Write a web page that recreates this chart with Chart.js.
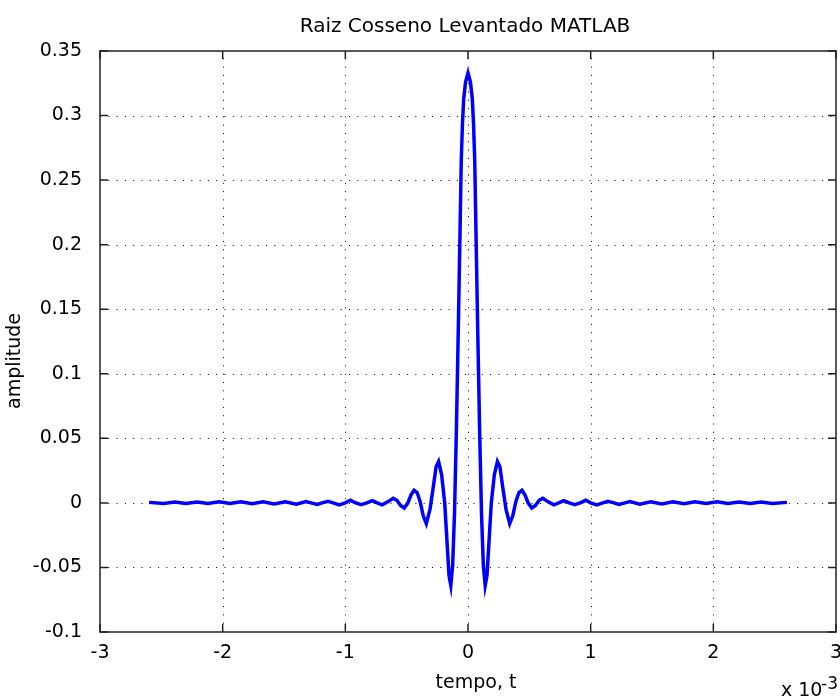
<!DOCTYPE html>
<html>
<head>
<meta charset="utf-8">
<script src="https://cdn.jsdelivr.net/npm/chart.js@4.4.1/dist/chart.umd.min.js"></script>
<style>
  html, body { margin: 0; padding: 0; background: #fff; }
  #wrap { width: 840px; height: 699px; }
</style>
</head>
<body>
<div id="wrap"><canvas id="myChart" width="840" height="699"></canvas></div>
<script>
// tempo in units of 1e-3 s
const tempo = [
  -2.6, -2.48, -2.39, -2.3, -2.21, -2.12, -2.03, -1.94, -1.85, -1.76,
  -1.67, -1.58, -1.49, -1.4, -1.32, -1.28, -1.23, -1.19, -1.14, -1.1,
  -1.05, -1.0, -0.96, -0.915, -0.87, -0.825, -0.78, -0.74, -0.7, -0.65,
  -0.61, -0.58, -0.55, -0.52, -0.49, -0.465, -0.44, -0.415, -0.39, -0.365,
  -0.34, -0.31, -0.285, -0.26, -0.24, -0.215, -0.19, -0.17, -0.155, -0.14,
  -0.125, -0.11, -0.095, -0.08, -0.065, -0.055, -0.045, -0.035, -0.02,
  0,
  0.02, 0.035, 0.045, 0.055, 0.065, 0.08, 0.095, 0.11, 0.125, 0.14,
  0.155, 0.17, 0.19, 0.215, 0.24, 0.26, 0.285, 0.31, 0.34, 0.365,
  0.39, 0.415, 0.44, 0.465, 0.49, 0.52, 0.55, 0.58, 0.61, 0.65,
  0.7, 0.74, 0.78, 0.825, 0.87, 0.915, 0.96, 1.0, 1.05, 1.1,
  1.14, 1.19, 1.23, 1.28, 1.32, 1.4, 1.49, 1.58, 1.67, 1.76,
  1.85, 1.94, 2.03, 2.12, 2.21, 2.3, 2.39, 2.48, 2.6
];
const amplitude = [
  0.0004, -0.0004, 0.0007, -0.0004, 0.0007, -0.0005, 0.0008, -0.0005, 0.0008, -0.0006,
  0.0008, -0.0008, 0.0008, -0.001, 0.001, 0, -0.0012, 0, 0.0012, 0,
  -0.0015, 0, 0.002, 0, -0.0013, 0, 0.0018, 0, -0.0015, 0.001,
  0.0036, 0.002, -0.002, -0.004, 0, 0.006, 0.0098, 0.008, 0.001, -0.01,
  -0.016, -0.005, 0.011, 0.028, 0.032, 0.022, 0, -0.032, -0.056, -0.064,
  -0.048, -0.008, 0.055, 0.13, 0.21, 0.265, 0.294, 0.313, 0.326,
  0.333,
  0.326, 0.313, 0.294, 0.265, 0.21, 0.13, 0.055, -0.008, -0.048, -0.064,
  -0.056, -0.032, 0, 0.022, 0.032, 0.028, 0.011, -0.005, -0.016, -0.01,
  0.001, 0.008, 0.0098, 0.006, 0, -0.004, -0.002, 0.002, 0.0036, 0.001,
  -0.0015, 0, 0.0018, 0, -0.0013, 0, 0.002, 0, -0.0015, 0,
  0.0012, 0, -0.0012, 0, 0.001, -0.001, 0.0008, -0.0008, 0.0008, -0.0006,
  0.0008, -0.0005, 0.0008, -0.0005, 0.0007, -0.0004, 0.0007, -0.0004, 0.0004
];
const xTicks = [-3, -2, -1, 0, 1, 2, 3];
const yTicks = [-0.1, -0.05, 0, 0.05, 0.1, 0.15, 0.2, 0.25, 0.3, 0.35];

const FONT = '"DejaVu Sans", sans-serif';

const matlabFrame = {
  id: 'matlabFrame',
  beforeDatasetsDraw(chart) {
    const { ctx, chartArea: a, scales: { x, y } } = chart;
    ctx.save();
    ctx.strokeStyle = '#000';
    ctx.lineWidth = 1;
    ctx.setLineDash([1, 7.3]);
    xTicks.slice(1, -1).forEach(v => {
      const px = Math.round(x.getPixelForValue(v)) + 0.5;
      ctx.beginPath(); ctx.moveTo(px, a.bottom); ctx.lineTo(px, a.top); ctx.stroke();
    });
    yTicks.slice(1, -1).forEach(v => {
      const py = Math.round(y.getPixelForValue(v)) + 0.5;
      ctx.beginPath(); ctx.moveTo(a.left, py); ctx.lineTo(a.right, py); ctx.stroke();
    });
    ctx.restore();
  },
  afterDraw(chart) {
    const { ctx, chartArea: a, scales: { x, y } } = chart;
    const tl = 8;
    ctx.save();
    ctx.strokeStyle = '#222';
    ctx.lineWidth = 1.5;
    ctx.setLineDash([]);
    ctx.strokeRect(a.left, a.top, a.right - a.left, a.bottom - a.top);
    ctx.beginPath();
    xTicks.forEach(v => {
      const px = x.getPixelForValue(v);
      ctx.moveTo(px, a.bottom); ctx.lineTo(px, a.bottom - tl);
      ctx.moveTo(px, a.top); ctx.lineTo(px, a.top + tl);
    });
    yTicks.forEach(v => {
      const py = y.getPixelForValue(v);
      ctx.moveTo(a.left, py); ctx.lineTo(a.left + tl, py);
      ctx.moveTo(a.right, py); ctx.lineTo(a.right - tl, py);
    });
    ctx.stroke();

    ctx.fillStyle = '#000';
    ctx.textBaseline = 'alphabetic';
    ctx.textAlign = 'center';
    ctx.font = '20px ' + FONT;
    ctx.fillText('Raiz Cosseno Levantado MATLAB', 465, 32);
    ctx.font = '19px ' + FONT;
    ctx.fillText('tempo, t', 476, 688);

    ctx.textAlign = 'left';
    ctx.fillText('x 10', 781, 696);
    ctx.font = '17px ' + FONT;
    ctx.fillText('-3', 821, 689);

    ctx.font = '19px ' + FONT;
    ctx.translate(20, 361);
    ctx.rotate(-Math.PI / 2);
    ctx.textAlign = 'center';
    ctx.fillText('amplitude', 0, 0);
    ctx.restore();
  }
};

new Chart(document.getElementById('myChart').getContext('2d'), {
  type: 'scatter',
  data: {
    datasets: [{
      data: tempo.map((t, i) => ({ x: t, y: amplitude[i] })),
      showLine: true,
      borderColor: '#0000ff',
      borderWidth: 3.5,
      pointRadius: 0,
      tension: 0
    }]
  },
  options: {
    responsive: false,
    animation: false,
    layout: { padding: { top: 51, right: 4, left: 0, bottom: 0 } },
    plugins: { legend: { display: false }, tooltip: { enabled: false } },
    scales: {
      x: {
        type: 'linear',
        min: -3, max: 3,
        afterFit: s => { s.height = 67; s.paddingLeft = 0; s.paddingRight = 0; },
        afterBuildTicks: s => { s.ticks = xTicks.map(v => ({ value: v })); },
        grid: { display: false },
        border: { display: false },
        ticks: { autoSkip: false, maxRotation: 0, padding: 2, color: '#000', font: { family: FONT, size: 19 } }
      },
      y: {
        min: -0.1, max: 0.35,
        afterFit: s => { s.width = 100; s.paddingTop = 0; s.paddingBottom = 0; },
        afterBuildTicks: s => { s.ticks = yTicks.map(v => ({ value: v })); },
        grid: { display: false },
        border: { display: false },
        ticks: {
          autoSkip: false, padding: 10, color: '#000',
          font: { family: FONT, size: 19 },
          callback: v => String(+v.toFixed(2))
        }
      }
    }
  },
  plugins: [matlabFrame]
});
</script>
</body>
</html>
